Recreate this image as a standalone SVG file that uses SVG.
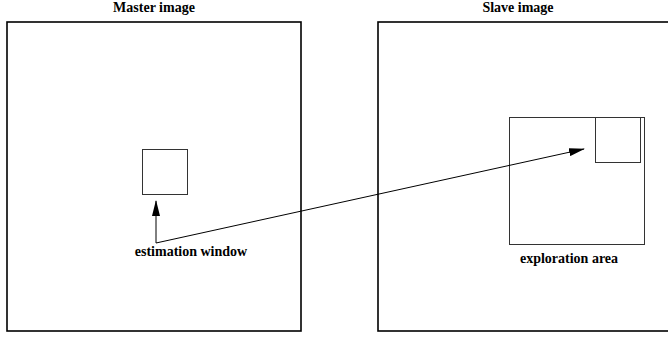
<svg xmlns="http://www.w3.org/2000/svg" width="668" height="337" viewBox="0 0 668 337">
<style>
.frame{fill:none;stroke:#000;stroke-width:1.6}
.box{fill:none;stroke:#333;stroke-width:1}
.lbl{font-family:"Liberation Serif",serif;font-weight:bold;font-size:14px;fill:#000;text-anchor:middle}
.conn{fill:none;stroke:#000;stroke-width:1}
</style>
<defs>
<marker id="ah" markerWidth="16" markerHeight="8" refX="15" refY="4" orient="auto" markerUnits="userSpaceOnUse">
<path d="M0,0 L16,4 L0,8 Z" fill="#000"/>
</marker>
</defs>
<g id="master">
<rect class="frame" x="7" y="22" width="294" height="309"/>
<text class="lbl" x="154" y="12">Master image</text>
</g>
<g id="slave">
<rect class="frame" x="378" y="22" width="292" height="309"/>
<text class="lbl" x="518" y="12">Slave image</text>
</g>
<g id="estimation-window">
<rect class="box" x="142.5" y="149.5" width="45" height="45"/>
<text class="lbl" x="191" y="256">estimation window</text>
</g>
<g id="exploration-area">
<rect class="box" x="509.5" y="117.5" width="135" height="127"/>
<rect class="box" x="595.5" y="117.5" width="45" height="45"/>
<text class="lbl" x="569" y="263">exploration area</text>
</g>
<g id="connectors">
<path class="conn" d="M156,243 L156,201" marker-end="url(#ah)"/>
<path class="conn" d="M156,243 L584,149" marker-end="url(#ah)"/>
</g>
</svg>
